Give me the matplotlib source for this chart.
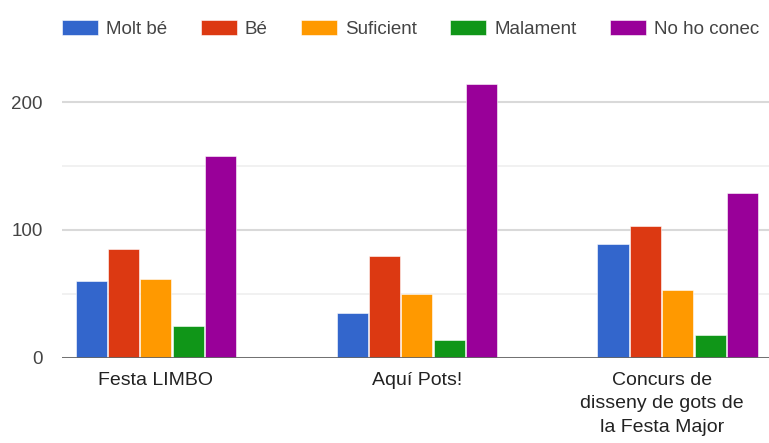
import matplotlib
matplotlib.use('Agg')
import matplotlib.pyplot as plt
import matplotlib.transforms as mtransforms
import numpy as np

plt.rcParams['font.family'] = ['Liberation Sans', 'DejaVu Sans']

# values
categories = ['Festa LIMBO', 'Aquí Pots!', 'Concurs de\ndisseny de gots de\nla Festa Major']
series = ['Molt bé', 'Bé', 'Suficient', 'Malament', 'No ho conec']
molt_be = [60, 35, 89]
be = [85, 80, 103]
suficient = [62, 50, 53]
malament = [25, 14, 18]
no_ho_conec = [158, 214, 129]
colors = ['#3366cc', '#dc3912', '#ff9900', '#109618', '#990099']

values = [molt_be, be, suficient, malament, no_ho_conec]

W, H = 769, 443
fig = plt.figure(figsize=(W / 100, H / 100), dpi=100)
fig.patch.set_facecolor('white')

# axes placed in pixel terms
left, right, bottom, top = 62, 769, 357.7, 70
ax = fig.add_axes([left / W, 1 - bottom / H, (right - left) / W, (bottom - top) / H])
ax.set_facecolor('white')

x = np.arange(len(categories))
bw = 0.124
for i, (name, vals, c) in enumerate(zip(series, values, colors)):
    ax.bar(x + (i - 2) * bw, vals, width=bw * 0.96, color=c, edgecolor='white',
           linewidth=0.4, label=name, zorder=3)

ax.set_xlim(-0.36, 2.35)
ax.set_ylim(0, (bottom - top) / 1.277)

ax.set_yticks([0, 100, 200])
ax.set_yticks([50, 150], minor=True)
ax.yaxis.grid(True, which='major', color='#d9d9d9', linewidth=1.5, zorder=0)
ax.yaxis.grid(True, which='minor', color='#efefef', linewidth=1.2, zorder=0)
ax.axhline(0, color='#666666', linewidth=2, zorder=4)

for s in ax.spines.values():
    s.set_visible(False)

ax.tick_params(axis='y', which='both', length=0, pad=14, labelsize=13.5, labelcolor='#444444')
ax.set_xticks(x)
ax.set_xticklabels(categories, fontsize=14, color='#222222')
ax.tick_params(axis='x', length=0, pad=10)

# the wrapped label sits a little left of its group in the original
shift = mtransforms.ScaledTranslation(-16 / 100, 0, fig.dpi_scale_trans)
lab = ax.get_xticklabels()[2]
lab.set_transform(lab.get_transform() + shift)
lab.set_linespacing(1.5)

fig.legend(loc='center left', bbox_to_anchor=(left / W, 1 - 29 / H), ncol=5,
           frameon=False, fontsize=13.5, handlelength=1.92, handleheight=0.8,
           handletextpad=0.45, columnspacing=1.76, borderpad=0, borderaxespad=0,
           labelcolor='#444444')

fig.savefig('out.png', dpi=100, facecolor='white')
